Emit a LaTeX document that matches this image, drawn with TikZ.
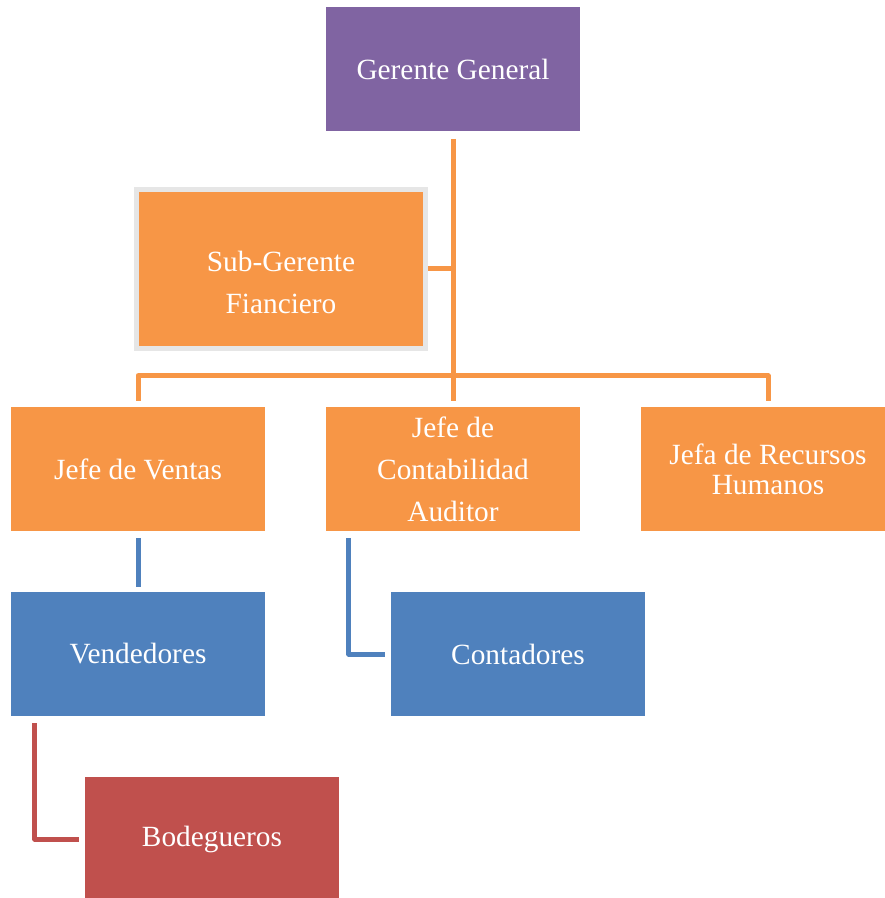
\documentclass[tikz,border=0pt]{standalone}
\usepackage{fontspec}
\setmainfont{Liberation Serif}
\usepackage{xcolor}
\definecolor{orgPurple}{RGB}{128, 100, 162}
\definecolor{orgOrange}{RGB}{247, 150, 70}
\definecolor{orgBlue}{RGB}{79, 129, 189}
\definecolor{orgRed}{RGB}{192, 80, 77}
\definecolor{orgGray}{RGB}{230, 230, 230}

\tikzset{
  orgBox/.style={minimum width=190.5pt, minimum height=93pt, inner sep=0pt,
    text=white, align=center, font=\fontsize{22}{31.5}\selectfont},
  orgLink/.style={line width=3.75pt, line join=round}
}

\begin{document}
\begin{tikzpicture}[x=0.75pt, y=-0.75pt]
\useasboundingbox (0,0) rectangle (884,898);

% Boxes
\node[orgBox, fill=orgPurple] (gg) at (453,69.5) {Gerente General};
\node[orgBox, fill=orgOrange, draw=orgGray, line width=3.75pt,
      minimum width=216.75pt, minimum height=119.25pt,
      label={[text=white, align=center, font=\fontsize{22}{31.5}\selectfont, yshift=-10pt]center:Sub-Gerente\\Fianciero}]
      (sg) at (281,269) {};
\node[orgBox, fill=orgOrange] (jv) at (138,469) {Jefe de Ventas};
\node[orgBox, fill=orgOrange] (jc) at (453,469) {Jefe de\\Contabilidad\\Auditor};
\node[orgBox, fill=orgOrange, font=\fontsize{22}{22.5}\selectfont] (jr) at (768,469) {Jefa de Recursos\\Humanos};
\node[orgBox, fill=orgBlue] (vd) at (138,654) {Vendedores};
\node[orgBox, fill=orgBlue] (ct) at (518,654) {Contadores};
\node[orgBox, fill=orgRed] (bd) at (212,839) {Bodegueros};

% Orange links
\draw[orgLink, orgOrange] ([shift={(0,7)}]gg.south) -- ([shift={(0,-31)}]jc.north);
\draw[orgLink, orgOrange] ([shift={(0,-6)}]jv.north) -- ++(0,-25) -| ([shift={(0,-6)}]jr.north);
\draw[orgLink, orgOrange] ([shift={(0,-6)}]jc.north) -- ++(0,-25);
\draw[orgLink, orgOrange] (sg.east) -- (sg.east -| gg.south);

% Blue links
\draw[orgLink, orgBlue] ([shift={(0,7)}]jv.south) -- ([shift={(0,-5)}]vd.north);
\draw[orgLink, orgBlue] ([shift={(23,7)}]jc.south west) |- ([shift={(-6,0)}]ct.west);

% Red link
\draw[orgLink, orgRed] ([shift={(24,7)}]vd.south west) |- ([shift={(-6,0)}]bd.west);
\end{tikzpicture}
\end{document}
